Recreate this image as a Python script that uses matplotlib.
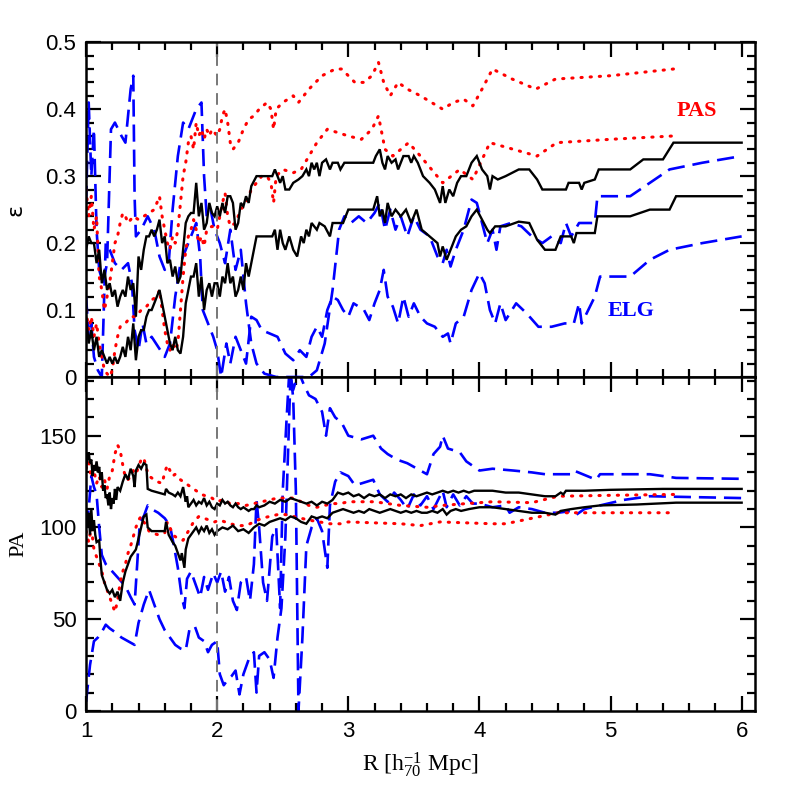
import matplotlib
matplotlib.use("Agg")
import matplotlib.pyplot as plt
from matplotlib.ticker import MultipleLocator, FuncFormatter

# ---------------- top panel (ellipticity) ----------------
eps_blk_hi_x = [1.00,1.02,1.04,1.06,1.08,1.10,1.12,1.14,1.16,1.18,1.20,1.22,1.24,1.26,1.28,1.30,1.32,1.34,1.36,1.38,1.40,1.42,1.44,1.46,1.48,1.50,1.52,1.54,1.56,1.58,1.60,1.62,1.64,1.66,1.68,1.70,1.72,1.74,1.76,1.78,1.80,1.82,1.84,1.86,1.88,1.90,1.92,1.94,1.96,1.98,2.00,2.02,2.04,2.06,2.08,2.10,2.12,2.14,2.16,2.18,2.20,2.22,2.24,2.26,2.30,2.38,2.42,2.44,2.46,2.48,2.50,2.52,2.55,2.58,2.62,2.65,2.68,2.70,2.72,2.74,2.76,2.78,2.80,2.83,2.86,2.88,2.92,2.94,2.97,3.00,3.19,3.21,3.24,3.26,3.28,3.30,3.33,3.36,3.38,3.42,3.46,3.48,3.50,3.53,3.57,3.62,3.66,3.70,3.72,3.74,3.77,3.80,3.83,3.86,3.90,3.94,3.98,4.02,4.06,4.08,4.10,4.14,4.20,4.30,4.38,4.44,4.48,4.66,4.68,4.76,4.78,4.80,4.88,4.91,5.15,5.25,5.40,5.48,6.00]
eps_blk_hi_y = [0.19,0.21,0.20,0.20,0.17,0.19,0.14,0.16,0.13,0.14,0.12,0.13,0.105,0.12,0.13,0.12,0.15,0.13,0.14,0.09,0.18,0.16,0.19,0.21,0.21,0.22,0.21,0.22,0.235,0.20,0.21,0.17,0.175,0.15,0.165,0.14,0.15,0.19,0.23,0.24,0.245,0.245,0.29,0.24,0.26,0.22,0.23,0.26,0.245,0.24,0.255,0.24,0.26,0.245,0.27,0.27,0.26,0.22,0.23,0.26,0.255,0.27,0.26,0.285,0.30,0.30,0.30,0.31,0.30,0.29,0.30,0.28,0.28,0.29,0.295,0.30,0.31,0.30,0.32,0.31,0.32,0.30,0.32,0.325,0.31,0.32,0.32,0.31,0.32,0.32,0.32,0.33,0.34,0.32,0.31,0.33,0.32,0.325,0.31,0.33,0.33,0.32,0.33,0.32,0.30,0.29,0.28,0.26,0.285,0.26,0.28,0.27,0.29,0.30,0.30,0.32,0.33,0.31,0.30,0.28,0.30,0.295,0.30,0.31,0.31,0.295,0.28,0.28,0.29,0.29,0.28,0.29,0.295,0.31,0.31,0.325,0.325,0.35,0.35]

eps_blk_lo_x = [1.00,1.02,1.04,1.06,1.08,1.10,1.12,1.14,1.16,1.18,1.20,1.22,1.24,1.26,1.28,1.30,1.32,1.34,1.36,1.38,1.40,1.42,1.44,1.46,1.48,1.50,1.52,1.54,1.56,1.58,1.60,1.62,1.64,1.66,1.68,1.70,1.72,1.74,1.76,1.78,1.80,1.82,1.84,1.86,1.88,1.90,1.92,1.94,1.96,1.98,2.00,2.02,2.04,2.06,2.08,2.10,2.12,2.14,2.16,2.18,2.20,2.22,2.24,2.26,2.30,2.42,2.44,2.46,2.48,2.50,2.52,2.55,2.58,2.61,2.64,2.66,2.68,2.70,2.72,2.76,2.78,2.82,2.86,2.88,2.92,2.96,3.00,3.19,3.22,3.24,3.26,3.28,3.30,3.33,3.36,3.40,3.44,3.48,3.52,3.56,3.62,3.68,3.70,3.72,3.75,3.78,3.82,3.86,3.90,3.94,3.98,4.02,4.06,4.08,4.12,4.20,4.30,4.38,4.44,4.50,4.58,4.62,4.70,4.72,4.74,4.88,4.90,5.15,5.30,5.45,5.50,6.00]
eps_blk_lo_y = [0.09,0.05,0.07,0.04,0.06,0.03,0.04,0.03,0.02,0.03,0.02,0.03,0.02,0.03,0.045,0.03,0.06,0.04,0.08,0.025,0.06,0.07,0.07,0.09,0.10,0.10,0.11,0.12,0.13,0.11,0.09,0.07,0.05,0.04,0.06,0.04,0.035,0.06,0.11,0.13,0.15,0.15,0.17,0.12,0.15,0.10,0.13,0.14,0.12,0.14,0.14,0.12,0.15,0.14,0.17,0.14,0.15,0.12,0.13,0.15,0.13,0.17,0.15,0.17,0.21,0.21,0.22,0.19,0.22,0.20,0.19,0.21,0.19,0.18,0.21,0.20,0.22,0.21,0.23,0.22,0.23,0.225,0.21,0.23,0.23,0.23,0.25,0.25,0.27,0.24,0.25,0.23,0.26,0.24,0.25,0.24,0.25,0.23,0.25,0.22,0.21,0.20,0.18,0.195,0.175,0.19,0.21,0.22,0.225,0.24,0.25,0.235,0.22,0.215,0.225,0.225,0.232,0.23,0.205,0.19,0.19,0.21,0.21,0.20,0.215,0.215,0.24,0.24,0.25,0.25,0.27,0.27]

eps_red_hi_x = [1.00,1.02,1.04,1.06,1.08,1.10,1.12,1.14,1.16,1.18,1.20,1.22,1.24,1.26,1.28,1.30,1.32,1.36,1.40,1.44,1.48,1.52,1.56,1.58,1.60,1.62,1.64,1.66,1.68,1.70,1.72,1.74,1.76,1.78,1.80,1.82,1.84,1.86,1.88,1.90,1.92,1.94,1.96,2.00,2.02,2.04,2.06,2.08,2.10,2.12,2.16,2.20,2.24,2.28,2.32,2.38,2.41,2.43,2.45,2.50,2.58,2.62,2.70,2.80,2.90,2.95,3.05,3.12,3.18,3.23,3.27,3.32,3.38,3.45,3.55,3.72,3.80,3.88,3.95,4.02,4.10,4.25,4.43,4.58,5.00,5.48]
eps_red_hi_y = [0.28,0.24,0.27,0.22,0.24,0.15,0.13,0.10,0.12,0.14,0.17,0.20,0.21,0.23,0.245,0.24,0.23,0.24,0.235,0.24,0.245,0.25,0.27,0.24,0.22,0.20,0.19,0.21,0.20,0.22,0.26,0.30,0.32,0.35,0.36,0.34,0.38,0.36,0.37,0.355,0.37,0.36,0.37,0.36,0.37,0.39,0.40,0.38,0.35,0.34,0.35,0.37,0.385,0.39,0.40,0.41,0.40,0.37,0.40,0.41,0.42,0.41,0.43,0.45,0.46,0.46,0.44,0.44,0.45,0.47,0.44,0.42,0.44,0.43,0.42,0.40,0.41,0.415,0.405,0.43,0.46,0.445,0.43,0.445,0.45,0.46]

eps_red_lo_x = [1.00,1.02,1.04,1.06,1.08,1.10,1.12,1.14,1.16,1.18,1.20,1.22,1.24,1.26,1.30,1.34,1.38,1.42,1.46,1.50,1.54,1.56,1.58,1.60,1.62,1.64,1.66,1.68,1.70,1.72,1.74,1.76,1.78,1.80,1.82,1.84,1.86,1.88,1.90,1.92,1.96,2.00,2.02,2.04,2.06,2.08,2.10,2.14,2.18,2.22,2.26,2.30,2.34,2.38,2.41,2.43,2.45,2.50,2.58,2.64,2.70,2.76,2.84,2.92,3.00,3.10,3.18,3.23,3.28,3.34,3.40,3.46,3.55,3.72,3.85,3.95,4.08,4.44,4.59,5.00,5.48]
eps_red_lo_y = [0.10,0.07,0.09,0.06,0.08,0.05,0.03,0.01,0.005,0.0,0.01,0.04,0.06,0.075,0.08,0.09,0.09,0.10,0.105,0.115,0.12,0.13,0.10,0.07,0.05,0.04,0.05,0.04,0.05,0.10,0.15,0.19,0.21,0.22,0.235,0.22,0.20,0.21,0.195,0.22,0.225,0.22,0.24,0.26,0.275,0.24,0.225,0.23,0.25,0.26,0.28,0.29,0.30,0.30,0.29,0.26,0.30,0.31,0.305,0.31,0.33,0.35,0.37,0.365,0.36,0.355,0.37,0.39,0.34,0.33,0.34,0.35,0.33,0.29,0.31,0.295,0.35,0.33,0.35,0.355,0.36]

eps_blu_a_x = [1.00,1.02,1.04,1.06,1.08,1.10,1.13,1.16,1.19,1.22,1.27,1.30,1.34,1.36,1.37,1.38,1.42,1.47,1.52,1.56,1.60,1.63,1.66,1.70,1.74,1.78,1.84,1.88,1.90,1.92,1.95,1.98,2.02,2.06,2.10,2.14,2.18,2.22,2.26,2.30,2.36,2.45,2.55,2.62,2.70,2.76,2.82,2.88,2.93,2.97,3.02,3.08,3.14,3.20,3.24,3.28,3.32,3.36,3.40,3.45,3.50,3.55,3.62,3.68,3.72,3.75,3.78,3.82,3.88,3.94,3.98,4.02,4.06,4.10,4.13,4.16,4.24,4.32,4.40,4.48,4.55,4.62,4.66,4.70,4.76,4.88,4.90,5.15,5.30,5.45,5.70,6.00]
eps_blu_a_y = [0.26,0.41,0.30,0.37,0.22,0.16,0.14,0.17,0.37,0.38,0.36,0.35,0.43,0.45,0.27,0.21,0.22,0.24,0.22,0.18,0.16,0.17,0.25,0.33,0.38,0.37,0.40,0.41,0.30,0.24,0.25,0.22,0.20,0.17,0.22,0.16,0.19,0.11,0.05,0.02,0.005,0.0,0.0,0.0,0.0,0.01,0.05,0.13,0.22,0.24,0.23,0.24,0.23,0.245,0.26,0.22,0.25,0.22,0.24,0.21,0.24,0.22,0.21,0.18,0.17,0.19,0.165,0.19,0.22,0.265,0.26,0.23,0.20,0.22,0.19,0.225,0.23,0.225,0.21,0.20,0.21,0.20,0.23,0.21,0.23,0.23,0.27,0.27,0.29,0.31,0.32,0.33]

eps_blu_b_x = [1.00,1.02,1.04,1.06,1.09,1.12,1.15,1.18,1.22,1.27,1.32,1.35,1.37,1.40,1.43,1.46,1.50,1.55,1.60,1.64,1.68,1.72,1.76,1.80,1.84,1.87,1.89,1.93,1.97,2.00,2.03,2.07,2.10,2.14,2.18,2.22,2.26,2.30,2.34,2.40,2.46,2.52,2.58,2.63,2.68,2.72,2.76,2.80,2.84,2.88,2.92,2.96,3.00,3.04,3.08,3.12,3.16,3.20,3.24,3.27,3.30,3.34,3.38,3.42,3.46,3.50,3.55,3.60,3.66,3.72,3.76,3.78,3.82,3.88,3.94,4.00,4.04,4.08,4.12,4.16,4.20,4.28,4.36,4.45,4.55,4.65,4.72,4.76,4.78,4.88,4.92,5.15,5.30,5.45,5.70,6.00]
eps_blu_b_y = [0.12,0.06,0.08,0.03,0.01,0.0,0.20,0.19,0.17,0.16,0.17,0.14,0.07,0.04,0.08,0.05,0.06,0.045,0.03,0.05,0.12,0.17,0.19,0.21,0.23,0.18,0.10,0.08,0.06,0.04,0.0,0.05,0.02,0.06,0.04,0.02,0.09,0.085,0.07,0.065,0.06,0.035,0.025,0.04,0.03,0.06,0.075,0.06,0.10,0.12,0.115,0.10,0.09,0.11,0.105,0.10,0.085,0.11,0.13,0.16,0.12,0.105,0.08,0.12,0.09,0.11,0.09,0.08,0.075,0.06,0.065,0.05,0.08,0.09,0.13,0.155,0.14,0.10,0.08,0.11,0.085,0.11,0.095,0.075,0.075,0.08,0.08,0.11,0.08,0.12,0.15,0.15,0.175,0.19,0.20,0.21]

# ---------------- bottom panel (position angle) ----------------
pa_blk_hi_x = [1.00,1.01,1.02,1.03,1.04,1.05,1.06,1.07,1.08,1.09,1.10,1.11,1.12,1.13,1.14,1.15,1.16,1.17,1.18,1.19,1.20,1.21,1.22,1.23,1.24,1.26,1.28,1.30,1.32,1.34,1.36,1.37,1.38,1.40,1.42,1.44,1.46,1.47,1.50,1.55,1.60,1.61,1.63,1.66,1.68,1.70,1.72,1.74,1.76,1.77,1.78,1.80,1.82,1.84,1.86,1.88,1.90,1.92,1.94,1.96,1.98,2.00,2.02,2.04,2.06,2.08,2.10,2.12,2.14,2.16,2.18,2.20,2.24,2.26,2.28,2.30,2.32,2.36,2.40,2.44,2.48,2.52,2.56,2.60,2.64,2.68,2.72,2.76,2.80,2.84,2.88,2.92,2.96,3.00,3.04,3.08,3.12,3.16,3.20,3.24,3.28,3.32,3.36,3.40,3.44,3.48,3.52,3.56,3.60,3.64,3.68,3.72,3.76,3.80,3.84,3.88,3.92,3.96,4.00,4.10,4.20,4.30,4.40,4.50,4.58,4.62,4.64,4.66,4.80,5.00,5.40,6.00]
pa_blk_hi_y = [132,138,141,135,137,128,134,131,136,130,133,126,130,120,123,116,118,112,119,110,116,113,121,115,122,120,125,129,126,132,128,122,131,134,132,135,134,121,120,119,118,121,119,118,117,119,117,122,114,117,111,113,115,112,114,113,116,112,114,111,110,113,112,115,113,114,112,111,113,111,110,111,109,110,110,112,111,112,114,113,115,114,116,115,114,113,114,112,114,113,115,119,118,119,117,118,116,118,117,118,116,118,117,118,116,118,117,118,119,118,119,120,119,120,119,120,119,120,120,120,119,119,118,117,117,119,118,120,120,120.5,121,121]

pa_blk_lo_x = [1.00,1.01,1.02,1.03,1.04,1.05,1.06,1.07,1.08,1.10,1.11,1.12,1.14,1.16,1.18,1.20,1.22,1.24,1.26,1.28,1.30,1.32,1.34,1.36,1.38,1.40,1.42,1.44,1.46,1.47,1.50,1.55,1.60,1.61,1.63,1.66,1.68,1.70,1.72,1.73,1.75,1.76,1.78,1.80,1.82,1.84,1.86,1.88,1.90,1.92,1.94,1.96,1.98,2.00,2.04,2.08,2.12,2.16,2.20,2.24,2.28,2.32,2.36,2.40,2.44,2.48,2.52,2.56,2.60,2.64,2.68,2.72,2.76,2.80,2.84,2.88,2.92,2.96,3.00,3.04,3.08,3.12,3.16,3.20,3.24,3.28,3.32,3.36,3.40,3.44,3.48,3.52,3.56,3.60,3.64,3.68,3.72,3.75,3.78,3.82,3.86,3.92,4.00,4.10,4.20,4.30,4.40,4.50,4.58,4.62,4.70,4.80,4.92,5.20,5.50,6.00]
pa_blk_lo_y = [110,100,108,96,110,98,104,96,92,93,82,74,70,66,64,66,62,65,60,70,76,80,84,86,88,94,100,106,107,100,98,98,98,103,96,92,90,86,82,86,78,88,94,96,98,100,97,100,98,101,97,99,96,98,100,99,101,98,99,97,100,102,101,103,104,105,104,106,105,103,102,106,105,106,105,108,109,110,109,108,109,108,110,109,108,109,110,109,108,109,108,109,108,108,109,108,110,107,109,110,109,110,111,111,110,109,108,108,107,109,110,111,112,112.5,113.5,113.5]

pa_red_hi_x = [1.00,1.02,1.04,1.06,1.08,1.10,1.12,1.14,1.16,1.18,1.20,1.22,1.24,1.26,1.28,1.30,1.32,1.34,1.36,1.38,1.40,1.42,1.44,1.46,1.48,1.50,1.54,1.58,1.60,1.62,1.64,1.66,1.68,1.72,1.76,1.80,1.84,1.88,1.92,1.96,2.00,2.04,2.10,2.16,2.22,2.28,2.34,2.40,2.46,2.52,2.58,2.64,2.70,2.76,2.82,2.88,2.94,3.00,3.20,3.40,3.60,3.72,3.90,4.10,4.40,4.60,5.00,5.50]
pa_red_hi_y = [132,136,127,131,124,128,122,126,121,128,131,140,145,142,134,127,126,128,131,129,133,137,138,132,128,127,125,124,130,134,131,128,129,126,124,122,120,118,117,116,114,115,113,113,112,113,114,115,116,116,116,114,112,111,112,113,113,114,114,112,111,112,113,114,113.5,117,117.5,118]

pa_red_lo_x = [1.00,1.02,1.04,1.06,1.08,1.10,1.12,1.14,1.16,1.18,1.20,1.22,1.24,1.26,1.28,1.30,1.32,1.34,1.36,1.38,1.40,1.42,1.44,1.46,1.48,1.50,1.55,1.60,1.62,1.64,1.66,1.70,1.74,1.78,1.82,1.86,1.90,1.94,1.98,2.02,2.06,2.10,2.16,2.22,2.28,2.34,2.40,2.46,2.52,2.58,2.64,2.70,2.78,2.86,2.94,3.00,3.20,3.40,3.55,3.70,3.90,4.10,4.20,4.40,4.60,5.00,5.50]
pa_red_lo_y = [98,92,100,88,84,80,76,70,66,62,58,54,60,70,76,80,86,90,95,100,104,106,103,101,98,97,96,97,103,100,96,94,93,98,103,106,105,104,103,104,103,102,101,101,103,105,106,107,107,106,105,104,103,102,102,103,102.5,102,101,103,102.5,102,102,105,108,108,108]

pa_blu_c_x = [1.00,1.02,1.04,1.06,1.08,1.10,1.12,1.15,1.20,1.25,1.30,1.34,1.37,1.39,1.41,1.44,1.47,1.50,1.55,1.60,1.64,1.67,1.70,1.73,1.75,1.77,1.80,1.83,1.87,1.90,1.93,1.97,2.00,2.03,2.06,2.09,2.12,2.15,2.18,2.22,2.25,2.28,2.30,2.32,2.35,2.38,2.42,2.45,2.48,2.50,2.53,2.55,2.58,2.62,2.66,2.70,2.75,2.80,2.83,2.86,2.90,2.95,3.00,3.10,3.19,3.25,3.30,3.37,3.45,3.50,3.60,3.65,3.70,3.72,3.76,3.85,3.90,4.00,4.10,4.26,4.40,4.50,4.70,4.72,4.89,4.92,5.30,5.50,6.00]
pa_blu_c_y = [100,110,128,122,118,100,85,80,76,72,68,62,58,80,103,106,112,110,108,105,101,90,78,62,56,72,76,70,62,73,66,75,70,76,65,73,60,55,70,73,60,80,115,100,70,60,95,100,56,120,160,185,175,185,178,172,170,163,150,165,160,157,150,148,150,143,140,137,135,133,129,140,144,150,143,141,136,131,132,131,130,129,129,131,126,129,129,127,126.5]

pa_blu_d_x = [1.00,1.03,1.06,1.09,1.12,1.15,1.18,1.22,1.27,1.32,1.37,1.40,1.44,1.48,1.52,1.56,1.60,1.64,1.68,1.72,1.76,1.79,1.83,1.86,1.90,1.93,1.96,2.00,2.02,2.05,2.08,2.11,2.14,2.17,2.20,2.24,2.28,2.30,2.32,2.36,2.40,2.43,2.46,2.49,2.52,2.54,2.56,2.58,2.60,2.62,2.65,2.68,2.72,2.76,2.80,2.84,2.86,2.90,2.94,3.00,3.05,3.10,3.19,3.24,3.30,3.35,3.40,3.45,3.50,3.55,3.60,3.65,3.72,3.75,3.80,3.85,3.90,3.95,4.00,4.10,4.20,4.23,4.30,4.40,4.50,4.60,4.70,4.74,4.80,4.92,5.10,5.30,6.00]
pa_blu_d_y = [5,25,38,40,43,47,45,43,40,38,36,48,58,66,58,50,44,40,36,34,33,45,46,40,38,32,36,38,20,14,17,19,22,9,20,28,32,10,30,32,28,18,40,56,95,140,185,170,120,0,40,90,100,105,98,78,112,125,130,128,123,124,126,118,114,119,115,110,118,112,117,110,120,111,118,112,117,113,113,111,112,108,111,110,108,108,109,107,110,112,115,117,116]

x_ticks = [1, 2, 3, 4, 5, 6]
eps_ticks = [0, 0.1, 0.2, 0.3, 0.4, 0.5]
pa_ticks = [0, 50, 100, 150]

plt.rcParams["font.family"] = ["Liberation Sans", "DejaVu Sans"]
plt.rcParams["mathtext.fontset"] = "custom"
plt.rcParams["mathtext.rm"] = "Liberation Serif"
plt.rcParams["mathtext.it"] = "Liberation Serif:italic"

fig = plt.figure(figsize=(7.97, 7.97), dpi=100)
ax1 = fig.add_axes([0.108, 0.527, 0.839, 0.420])
ax2 = fig.add_axes([0.108, 0.108, 0.839, 0.419], sharex=ax1)

blk = dict(color="black", lw=1.7, solid_joinstyle="miter")
red = dict(color="red", lw=2.2, linestyle=(0, (0.4, 2.6)), dash_capstyle="round")
blu = dict(color="blue", lw=1.9, linestyle=(0, (6.5, 3.0)))

ax1.plot(eps_blu_a_x, eps_blu_a_y, **blu)
ax1.plot(eps_blu_b_x, eps_blu_b_y, **blu)
ax1.plot(eps_red_hi_x, eps_red_hi_y, **red)
ax1.plot(eps_red_lo_x, eps_red_lo_y, **red)
ax1.plot(eps_blk_hi_x, eps_blk_hi_y, **blk)
ax1.plot(eps_blk_lo_x, eps_blk_lo_y, **blk)

ax2.plot(pa_blu_c_x, pa_blu_c_y, **blu)
ax2.plot(pa_blu_d_x, pa_blu_d_y, **blu)
ax2.plot(pa_red_hi_x, pa_red_hi_y, **red)
ax2.plot(pa_red_lo_x, pa_red_lo_y, **red)
ax2.plot(pa_blk_hi_x, pa_blk_hi_y, **blk)
ax2.plot(pa_blk_lo_x, pa_blk_lo_y, **blk)

for ax in (ax1, ax2):
    ax.axvline(2.0, color="#777777", lw=1.4, linestyle=(0, (6, 4)))
    ax.set_xlim(1.0, 6.1)
    ax.xaxis.set_major_locator(MultipleLocator(1))
    ax.xaxis.set_minor_locator(MultipleLocator(0.2))
    ax.tick_params(which="both", direction="in", top=True, right=True, width=1.6)
    ax.tick_params(which="major", length=11, labelsize=16, pad=7)
    ax.tick_params(which="minor", length=5.5)
    for s in ax.spines.values():
        s.set_linewidth(1.8)

ax1.set_ylim(0, 0.5)
ax1.set_yticks(eps_ticks)
ax1.yaxis.set_minor_locator(MultipleLocator(0.02))
ax1.yaxis.set_major_formatter(FuncFormatter(lambda v, p: "0" if abs(v) < 1e-9 else f"{v:.1f}"))
ax1.tick_params(labelbottom=False)

ax2.set_ylim(0, 182)
ax2.set_yticks(pa_ticks)
ax2.yaxis.set_minor_locator(MultipleLocator(10))
ax2.set_xticks(x_ticks)

ax1.set_ylabel("ε", fontsize=16, labelpad=14, family=["DejaVu Sans"])
ax2.set_ylabel("PA", fontsize=16, labelpad=8, family=["Liberation Serif"])
ax2.set_xlabel(r"R [h$_{70}^{-1}$ Mpc]", fontsize=17, labelpad=6, family=["Liberation Serif"])

ax1.text(5.66, 0.397, "PAS", color="red", fontsize=16, ha="center", va="center",
         family=["Liberation Serif"], weight="bold")
ax1.text(5.16, 0.098, "ELG", color="blue", fontsize=16, ha="center", va="center",
         family=["Liberation Serif"], weight="bold")

fig.savefig("out.png", dpi=100)
